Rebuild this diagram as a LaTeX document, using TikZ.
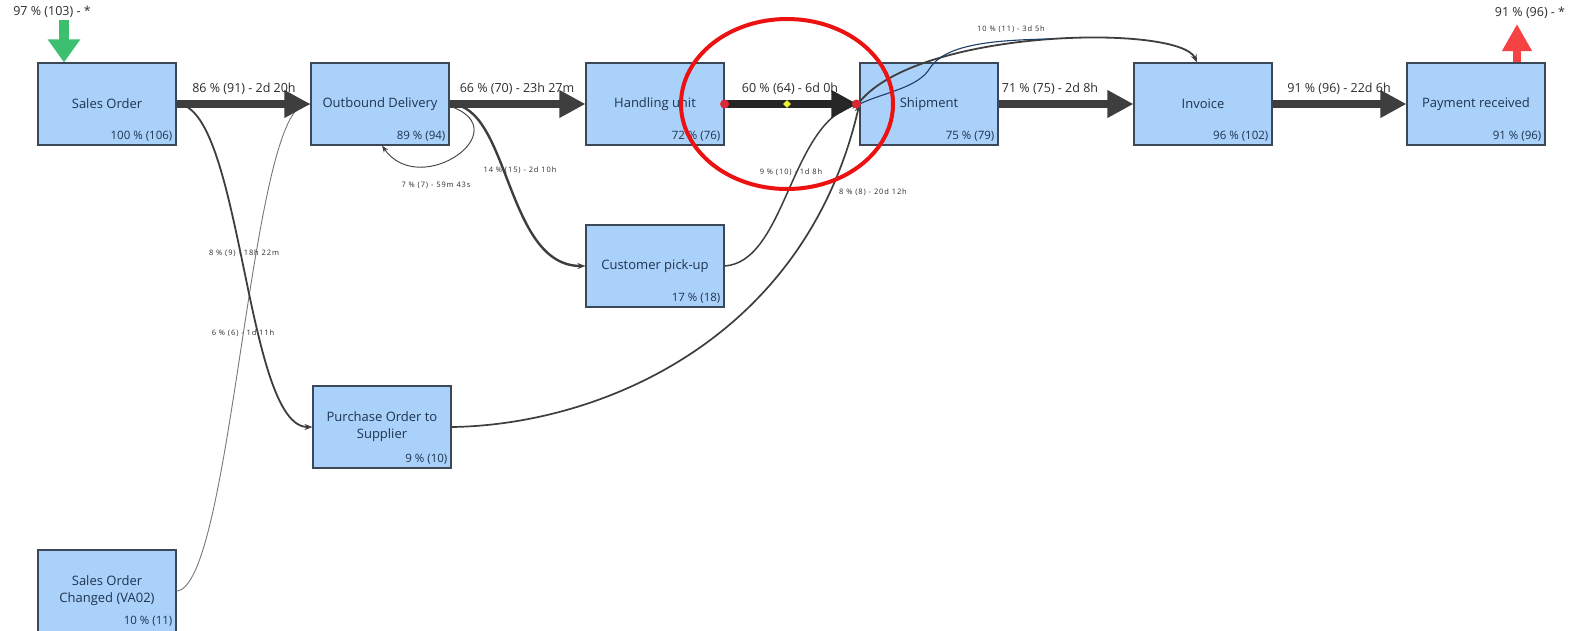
\documentclass[tikz,border=0pt]{standalone}
\usepackage{fontspec}
\setmainfont{Open Sans}
\newfontfamily\tinyfont[LetterSpace=12]{Open Sans}
\usetikzlibrary{arrows.meta,shapes.geometric}
\definecolor{boxfill}{RGB}{170,209,250}
\definecolor{boxdraw}{RGB}{60,72,88}
\definecolor{boxtext}{RGB}{30,52,80}
\definecolor{edgegray}{RGB}{62,62,62}
\definecolor{lightedge}{RGB}{120,120,120}
\definecolor{lbl}{RGB}{45,45,45}
\definecolor{inarrow}{RGB}{60,192,112}
\definecolor{outarrow}{RGB}{246,66,66}
\definecolor{ringred}{RGB}{236,18,18}
\definecolor{wigblue}{RGB}{30,62,102}
\definecolor{dotred}{RGB}{220,40,50}
\definecolor{dotyellow}{RGB}{240,240,60}
\begin{document}
\begin{tikzpicture}[x=1pt,y=-1pt,
 act/.style={draw=boxdraw, line width=1.1pt, fill=boxfill, minimum width=138pt, minimum height=82pt, inner sep=0pt, text=boxtext, font=\fontsize{13}{17}\selectfont, align=center},
 pct/.style={anchor=south east, inner sep=1pt, text=boxtext, font=\fontsize{11.5}{13}\selectfont},
 biglbl/.style={text=lbl, font=\fontsize{12.5}{14}\selectfont, inner sep=0pt},
 smalllbl/.style={text=lbl, font=\tinyfont\fontsize{7.5}{9}\selectfont, inner sep=0pt},
 fat/.style={draw=edgegray, line width=8pt, -{Triangle[length=26pt,width=26pt]}},
 thinarrow/.style={draw=edgegray, -{Stealth[length=8pt,width=6pt]}},
 dot/.style={circle, fill=dotred, inner sep=0pt, minimum size=9pt},
]
\useasboundingbox (0,0) rectangle (1577,630);
\fill[white] (0,0) rectangle (1577,630);

% activity boxes
\node[act] (so)  at (107,104)  {Sales Order};
\node[act] (od)  at (380,104)  {Outbound Delivery};
\node[act] (hu)  at (655,104)  {Handling unit};
\node[act] (sh)  at (929,104)  {Shipment};
\node[act] (inv) at (1203,104) {Invoice};
\node[act] (pay) at (1476,104) {Payment received};
\node[act] (cp)  at (655,266)  {Customer pick-up};
\node[act] (po)  at (382,427)  {Purchase Order to\\Supplier};
\node[act] (soc) at (107,591)  {Sales Order\\Changed (VA02)};

\node[pct] (so-p)  at ([xshift=-3pt,yshift=3pt]so.south east)  {100 \% (106)};
\node[pct] (od-p)  at ([xshift=-3pt,yshift=3pt]od.south east)  {89 \% (94)};
\node[pct] (hu-p)  at ([xshift=-3pt,yshift=3pt]hu.south east)  {72 \% (76)};
\node[pct] (sh-p)  at ([xshift=-3pt,yshift=3pt]sh.south east)  {75 \% (79)};
\node[pct] (inv-p) at ([xshift=-3pt,yshift=3pt]inv.south east) {96 \% (102)};
\node[pct] (pay-p) at ([xshift=-3pt,yshift=3pt]pay.south east) {91 \% (96)};
\node[pct] (cp-p)  at ([xshift=-3pt,yshift=3pt]cp.south east)  {17 \% (18)};
\node[pct] (po-p)  at ([xshift=-3pt,yshift=3pt]po.south east)  {9 \% (10)};
\node[pct] (soc-p) at ([xshift=-3pt,yshift=5pt]soc.south east) {10 \% (11)};

% start / end arrows
\coordinate (gstart) at (64,20);
\draw[draw=inarrow, line width=10pt, -{Triangle[length=23pt,width=31pt]}] (gstart) -- (gstart |- so.north);
\node[biglbl] (glbl) at (52,12) {97 \% (103) - *};
\coordinate (rend) at (1517,24);
\draw[draw=outarrow, line width=8pt, -{Triangle[length=27pt,width=28pt]}] (rend |- pay.north) -- (rend);
\node[biglbl] (rlbl) at (1530,13) {91 \% (96) - *};

% thin connectors
\draw[draw=lightedge, line width=0.9pt, -{Stealth[length=7pt,width=5pt]}] (soc.east) .. controls (232,588) and (250,108) .. (od.west);
\draw[thinarrow, line width=1.8pt] (so.east) .. controls (242,104) and (245,427) .. (po.west);
\draw[thinarrow, line width=2.4pt] (od.east) .. controls (510,104) and (505,266) .. (cp.west);
\draw[draw=edgegray, line width=0.9pt, -{Stealth[length=7pt,width=5pt]}] ([yshift=-2pt]od.east) .. controls (520,130) and (420,200) .. ([xshift=2pt]od.south);
\draw[thinarrow, line width=1.5pt] (cp.east) .. controls (786,262) and (790,122) .. (sh.west);
\draw[thinarrow, line width=1.7pt] (po.east) .. controls (600,425) and (805,340) .. (sh.west);
\draw[thinarrow, line width=1.8pt] ([yshift=2pt]sh.west) .. controls (920,28) and (1180,24) .. ([xshift=-6pt]inv.north);
\coordinate (wigend) at (1050,39);
\draw[draw=wigblue, line width=1.1pt] (sh.west) .. controls (885,92) and (918,88) .. (930,68) .. controls (945,45) and (990,40) .. (wigend);

% thick main connectors
\draw[fat] (so.east) -- (od.west);
\draw[fat] (od.east) -- (hu.west);
\draw[fat, draw=black!85] (hu.east) -- ([xshift=-2pt]sh.west);
\draw[fat] (sh.east) -- (inv.west);
\draw[fat] (inv.east) -- (pay.west);

% markers on the highlighted connector
\node[dot] (d1) at (hu.east) {};
\node[dot] (d2) at ([xshift=-3pt]sh.west) {};
\node[diamond, fill=dotyellow, inner sep=0pt, minimum size=8pt] (d3) at (787,104) {};

% connector labels
\node[biglbl] (l1) at (244,89)  {86 \% (91) - 2d 20h};
\node[biglbl] (l2) at (517,89)  {66 \% (70) - 23h 27m};
\node[biglbl] (l3) at (790,89)  {60 \% (64) - 6d 0h};
\node[biglbl] (l4) at (1050,89) {71 \% (75) - 2d 8h};
\node[biglbl] (l5) at (1339,89) {91 \% (96) - 22d 6h};
\node[smalllbl] (l6)  at (520,170)  {14 \% (15) - 2d 10h};
\node[smalllbl] (l7)  at (436,185)  {7 \% (7) - 59m 43s};
\node[smalllbl] (l8)  at (791,172)  {9 \% (10) - 1d 8h};
\node[smalllbl] (l9)  at (873,192)  {8 \% (8) - 20d 12h};
\node[smalllbl] (l10) at (1011,29)  {10 \% (11) - 3d 5h};
\node[smalllbl] (l11) at (244,253)  {8 \% (9) - 18h 22m};
\node[smalllbl] (l12) at (243,333)  {6 \% (6) - 1d 11h};

% highlight ring
\draw[draw=ringred, line width=4pt] (787,104) ellipse [x radius=106, y radius=85];
\end{tikzpicture}
\end{document}
